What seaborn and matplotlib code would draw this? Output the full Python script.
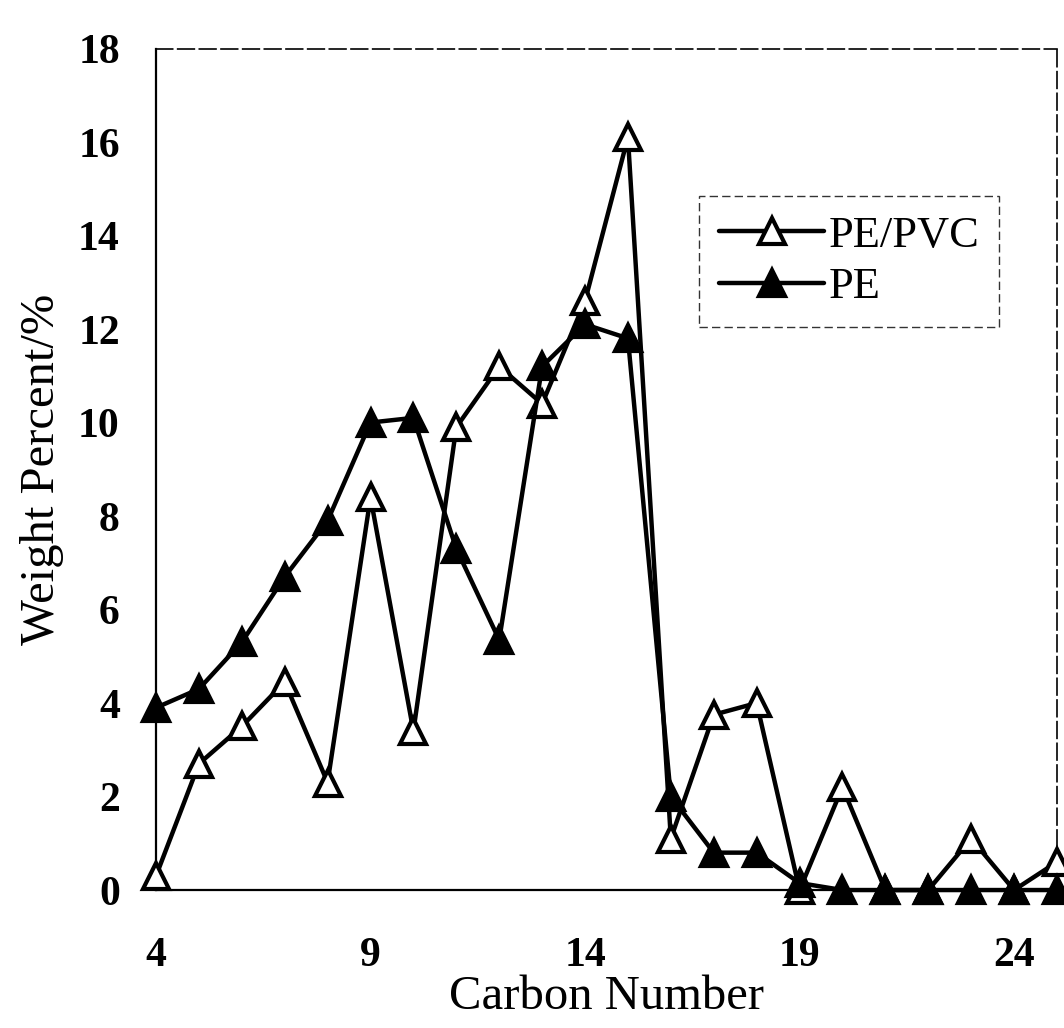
import matplotlib
matplotlib.use("Agg")
import matplotlib.pyplot as plt
import seaborn as sns
import pandas as pd

carbon = [4, 5, 6, 7, 8, 9, 10, 11, 12, 13, 14, 15, 16, 17, 18, 19, 20, 21, 22, 23, 24, 25]
pe_pvc = [0.3, 2.7, 3.5, 4.45, 2.3, 8.4, 3.4, 9.9, 11.2, 10.4, 12.6, 16.1, 1.1, 3.75, 4.0, 0.0, 2.2, 0.0, 0.0, 1.1, 0.0, 0.6]
pe = [3.9, 4.3, 5.3, 6.7, 7.9, 10.0, 10.1, 7.3, 5.35, 11.2, 12.1, 11.8, 2.0, 0.8, 0.8, 0.15, 0.0, 0.0, 0.0, 0.0, 0.0, 0.0]
series_names = ["PE/PVC", "PE"]
x_ticks = [4, 9, 14, 19, 24]
y_ticks = [0, 2, 4, 6, 8, 10, 12, 14, 16, 18]

sns.set_style("white")
plt.rcParams["font.family"] = ["Liberation Serif", "DejaVu Serif"]
plt.rcParams["text.color"] = "black"
plt.rcParams["axes.labelcolor"] = "black"
plt.rcParams["xtick.color"] = "black"
plt.rcParams["ytick.color"] = "black"

df1 = pd.DataFrame({"carbon": carbon, "value": pe_pvc})
df2 = pd.DataFrame({"carbon": carbon, "value": pe})

fig = plt.figure(figsize=(10.64, 10.28), dpi=100)
ax = fig.add_axes([0.1466, 0.1342, 0.8468, 0.8186])

common = dict(color="black", linewidth=3.2, marker="^", markersize=19,
              markeredgecolor="black", markeredgewidth=3, errorbar=None, clip_on=False, zorder=3)
sns.lineplot(data=df1, x="carbon", y="value", ax=ax, label=series_names[0],
             markerfacecolor="white", **common)
sns.lineplot(data=df2, x="carbon", y="value", ax=ax, label=series_names[1],
             markerfacecolor="black", **common)

ax.set_xlim(4, 25)
ax.set_ylim(0, 18)
ax.set_xticks(x_ticks)
ax.set_yticks(y_ticks)
ax.tick_params(axis="both", direction="in", length=9, width=1.2, color="black",
               labelcolor="black")
ax.tick_params(axis="x", pad=34, labelsize=30)
ax.tick_params(axis="y", pad=26, labelsize=30)
for lab in ax.get_yticklabels():
    lab.set_fontweight("bold")
for lab in ax.get_xticklabels():
    lab.set_fontweight("bold")

for side in ["left", "bottom"]:
    ax.spines[side].set_linewidth(1.6)
    ax.spines[side].set_color("black")
for side in ["top", "right"]:
    ax.spines[side].set_linewidth(1.2)
    ax.spines[side].set_color("black")
    ax.spines[side].set_linestyle((0, (10, 3)))

ax.set_xlabel("Carbon Number", fontsize=35, labelpad=0, color="black")
ax.set_ylabel("Weight Percent/%", fontsize=35, labelpad=10, color="black")

leg = ax.legend(loc="upper left", bbox_to_anchor=(0.603, 0.825), fontsize=32,
                frameon=True, fancybox=False, edgecolor="black", handlelength=2.35,
                handletextpad=0.1, borderpad=0.45, labelspacing=0.25, borderaxespad=0)
leg.get_frame().set_linewidth(1.0)
leg.get_frame().set_linestyle((0, (6, 3)))
for t in leg.get_texts():
    t.set_color("black")

fig.savefig("out.png", dpi=100)
